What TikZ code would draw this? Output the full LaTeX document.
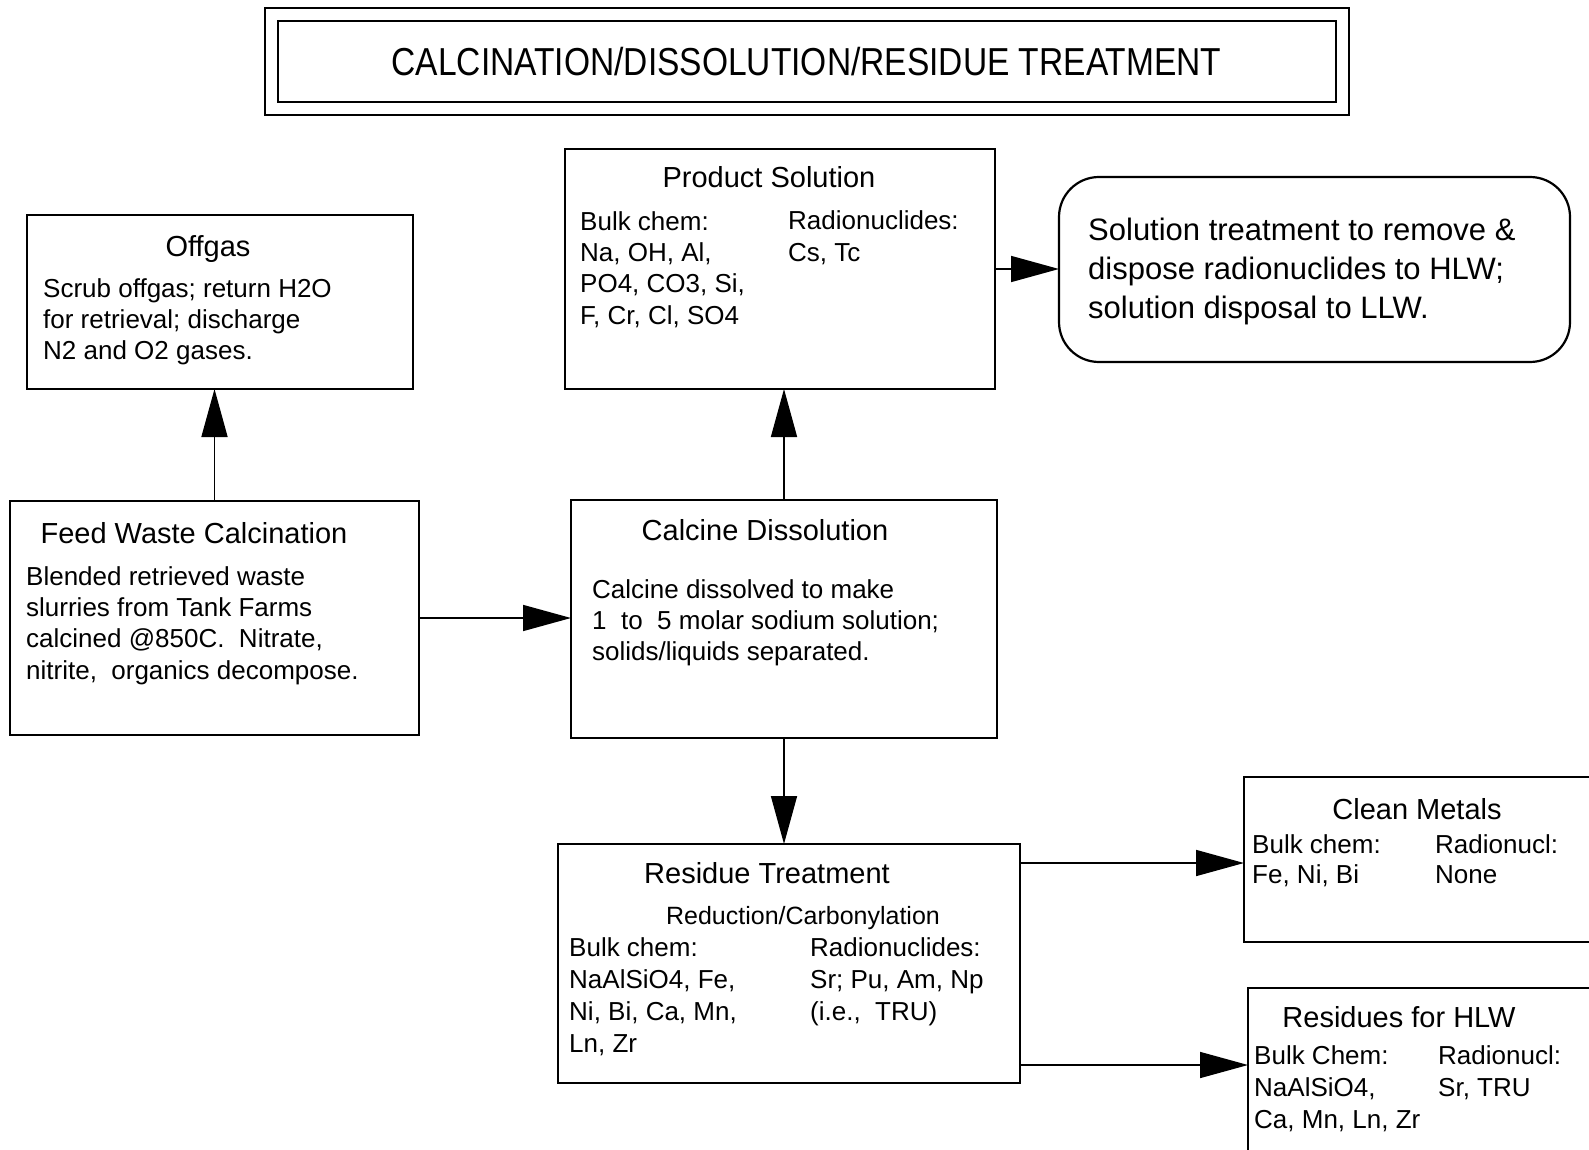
\documentclass[tikz,border=0pt]{standalone}
\usepackage{fontspec}
\setmainfont{Liberation Sans}
\newfontfamily\titlefont[FakeStretch=0.86]{Liberation Sans}
\usetikzlibrary{arrows.meta,calc}
\begin{document}
\begin{tikzpicture}[x=1pt,y=-1pt,
  box/.style={draw, line width=2.2pt, rectangle, inner sep=0pt, outer sep=0pt, anchor=north west},
  arr/.style={line width=1.6pt, -{Triangle[length=48pt,width=26pt]}},
  txt/.style={anchor=base west, align=left, inner sep=0pt, font=\fontsize{26}{31.3}\selectfont},
  txtb/.style={anchor=base west, align=left, inner sep=0pt, font=\fontsize{26}{32.3}\selectfont},
  head/.style={anchor=base, inner sep=0pt, font=\fontsize{29}{34}\selectfont},
]
\path[use as bounding box] (0,0) rectangle (1589,1150);
\clip (0,0) rectangle (1589,1150);

% title
\node[draw, double, double distance=11pt, line width=2pt, inner sep=0pt,
      minimum width=1071pt, minimum height=94pt,
      font=\titlefont\fontsize{39}{44}\selectfont] (title) at (806.5,61.5)
      {CALCINATION/DISSOLUTION/RESIDUE TREATMENT};

% boxes
\node[box, minimum width=386pt, minimum height=174pt] (offgas) at (27,215) {};
\node[box, minimum width=430pt, minimum height=240pt] (prod) at (565,149) {};
\node[box, rounded corners=40pt, minimum width=511pt, minimum height=185pt] (sol) at (1059,177) {};
\node[box, minimum width=409pt, minimum height=234pt] (feed) at (10,501) {};
\node[box, minimum width=426pt, minimum height=238pt] (calc) at (571,500) {};
\node[box, minimum width=462pt, minimum height=239pt] (res) at (558,844) {};
\node[box, minimum width=400pt, minimum height=165pt] (clean) at (1244,777) {};
\node[box, minimum width=400pt, minimum height=200pt] (hlw) at (1248,988) {};

% texts (multi-line nodes are placed by the baseline of their last line)
\node[head] (offgasH) at (208,257) {Offgas};
\node[txt] (offgasT) at (43,359.6) {Scrub offgas; return H2O\\for retrieval; discharge\\N2 and O2 gases.};

\node[head] (prodH) at (769,188) {Product Solution};
\node[txt] (prodL) at (580,324) {Bulk chem:\\Na, OH, Al,\\PO4, CO3, Si,\\F, Cr, Cl, SO4};
\node[txt] (prodR) at (788,261.3) {Radionuclides:\\Cs, Tc};

\node[anchor=base west, align=left, inner sep=0pt, font=\fontsize{31}{39}\selectfont] (solT) at (1088,318)
  {Solution treatment to remove \&\\dispose radionuclides to HLW;\\solution disposal to LLW.};

\node[head] (feedH) at (194,543) {Feed Waste Calcination};
\node[txt] (feedT) at (26,679) {Blended retrieved waste\\slurries from Tank Farms\\calcined @850C.\ \ Nitrate,\\nitrite,\ \ organics decompose.};

\node[head] (calcH) at (765,540) {Calcine Dissolution};
\node[txt] (calcT) at (592,660.6) {Calcine dissolved to make\\1\ \ to\ \ 5 molar sodium solution;\\solids/liquids separated.};

\node[head] (resH) at (767,883) {Residue Treatment};
\node[anchor=base, inner sep=0pt, font=\fontsize{25}{30}\selectfont] (resS) at (803,924) {Reduction/Carbonylation};
\node[txtb] (resL) at (569,1052.9) {Bulk chem:\\NaAlSiO4, Fe,\\Ni, Bi, Ca, Mn,\\Ln, Zr};
\node[txtb] (resR) at (810,1020.6) {Radionuclides:\\Sr; Pu, Am, Np\\(i.e.,\ \ TRU)};

\node[head] (cleanH) at (1417,819) {Clean Metals};
\node[anchor=base west, align=left, inner sep=0pt, font=\fontsize{26}{30}\selectfont] (cleanL) at (1252,883) {Bulk chem:\\Fe, Ni, Bi};
\node[anchor=base west, align=left, inner sep=0pt, font=\fontsize{26}{30}\selectfont] (cleanR) at (1435,883) {Radionucl:\\None};

\node[head] (hlwH) at (1399,1027) {Residues for HLW};
\node[anchor=base west, align=left, inner sep=0pt, font=\fontsize{26}{32}\selectfont] (hlwL) at (1254,1128) {Bulk Chem:\\NaAlSiO4,\\Ca, Mn, Ln, Zr};
\node[anchor=base west, align=left, inner sep=0pt, font=\fontsize{26}{32}\selectfont] (hlwR) at (1438,1096) {Radionucl:\\Sr, TRU};

% connectors
\draw[arr] (feed.north) -- (feed.north |- offgas.south);
\draw[arr] (feed.east) -- (feed.east -| calc.west);
\draw[arr] (calc.north) -- (calc.north |- prod.south);
\draw[arr] (prod.east) -- (prod.east -| sol.west);
\draw[arr] (calc.south) -- (calc.south |- res.north);
\coordinate (resout1) at ($(res.north east)+(0,19)$);
\coordinate (resout2) at ($(res.south east)+(0,-18)$);
\draw[arr] (resout1) -- (resout1 -| clean.west);
\draw[arr] (resout2) -- (resout2 -| hlw.west);
\end{tikzpicture}
\end{document}
